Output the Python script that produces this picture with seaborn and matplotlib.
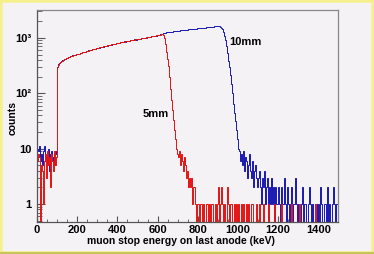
import numpy as np
import pandas as pd
import matplotlib
matplotlib.use('Agg')
import matplotlib.pyplot as plt
import matplotlib.ticker as mticker
from matplotlib.patches import Rectangle
from matplotlib.lines import Line2D
import seaborn as sns

# Histogram bins: 5 keV wide, 0 - 1500 keV
bin_edges = list(range(0, 1505, 5))

# 5mm: counts per bin, one row = 100 keV
counts_5mm = [
    6, 8, 7, 0, 5, 4, 1, 6, 8, 3, 9, 5, 7, 2, 8, 6, 4, 9, 5, 7,
    300, 330, 352, 368, 380, 390, 402, 411, 420, 428, 436, 447, 454, 462, 470, 478, 484, 493, 500, 506,
    508, 516, 522, 531, 538, 546, 552, 561, 567, 576, 583, 590, 597, 604, 612, 618, 626, 632, 641, 648,
    657, 662, 671, 678, 686, 692, 701, 707, 716, 722, 730, 738, 745, 752, 760, 767, 775, 782, 790, 798,
    806, 812, 820, 828, 835, 842, 850, 857, 865, 871, 880, 886, 894, 901, 910, 916, 924, 931, 940, 947,
    955, 963, 970, 979, 987, 995, 1003, 1012, 1020, 1028, 1037, 1045, 1054, 1062, 1071, 1080, 1088, 1097, 1106, 1115,
    1124, 1135, 1150, 1165, 1190, 1150, 1000, 760, 560, 420, 310, 200, 120, 76, 50, 33, 22, 15, 10, 8,
    7, 9, 5, 8, 6, 4, 7, 5, 3, 4, 2, 3, 2, 3, 1, 2, 2, 1, 0, 1,
    1, 0, 1, 1, 0, 1, 0, 0, 1, 1, 0, 1, 0, 1, 1, 0, 0, 1, 0, 1,
    2, 0, 1, 2, 1, 0, 1, 0, 0, 2, 1, 0, 1, 1, 0, 0, 1, 0, 1, 0,
    1, 0, 0, 1, 0, 1, 0, 0, 1, 0, 1, 0, 0, 1, 1, 0, 0, 0, 1, 0,
    0, 1, 0, 0, 0, 1, 0, 0, 0, 0, 1, 0, 0, 0, 0, 0, 1, 0, 0, 0,
    0, 0, 0, 1, 0, 0, 0, 0, 0, 0, 0, 0, 0, 1, 0, 0, 0, 0, 0, 0,
    0, 1, 0, 0, 0, 0, 0, 0, 0, 0, 0, 0, 0, 0, 0, 0, 0, 1, 0, 0,
    0, 0, 0, 0, 0, 0, 0, 0, 0, 0, 0, 0, 0, 0, 0, 0, 0, 0, 0, 0,
]

# 10mm: counts per bin
counts_10mm = [
    10, 9, 11, 6, 8, 5, 9, 11, 6, 7, 5, 10, 4, 8, 9, 6, 7, 5, 9, 8,
    296, 334, 348, 372, 378, 394, 398, 414, 417, 432, 433, 450, 452, 466, 468, 482, 482, 498, 496, 510,
    504, 520, 519, 535, 534, 550, 548, 565, 563, 580, 579, 594, 593, 608, 608, 622, 622, 636, 637, 652,
    652, 667, 667, 682, 682, 697, 697, 712, 711, 727, 726, 742, 741, 757, 756, 772, 771, 787, 786, 802,
    801, 817, 815, 832, 831, 847, 846, 862, 860, 876, 876, 891, 890, 906, 905, 921, 920, 936, 935, 952,
    951, 967, 966, 984, 983, 1000, 999, 1016, 1015, 1033, 1032, 1050, 1049, 1067, 1066, 1084, 1083, 1101, 1101, 1119,
    1128, 1146, 1158, 1178, 1192, 1214, 1228, 1246, 1252, 1262, 1268, 1280, 1285, 1296, 1300, 1312, 1318, 1326, 1333, 1342,
    1348, 1358, 1362, 1372, 1378, 1386, 1392, 1400, 1406, 1414, 1418, 1428, 1432, 1440, 1446, 1454, 1458, 1468, 1472, 1480,
    1486, 1494, 1500, 1508, 1514, 1522, 1528, 1536, 1542, 1550, 1556, 1564, 1570, 1580, 1590, 1602, 1630, 1640, 1644, 1650,
    1648, 1640, 1600, 1540, 1450, 1300, 1100, 900, 720, 530, 390, 300, 210, 150, 100, 65, 45, 32, 22, 15,
    10, 9, 6, 8, 5, 9, 4, 7, 6, 3, 5, 8, 4, 3, 6, 2, 4, 5, 3, 2,
    3, 4, 2, 1, 3, 2, 4, 1, 2, 3, 0, 2, 1, 3, 1, 2, 0, 2, 1, 1,
    2, 1, 0, 2, 1, 1, 3, 1, 0, 2, 1, 0, 1, 2, 0, 1, 1, 3, 1, 0,
    1, 0, 0, 1, 2, 0, 1, 1, 0, 0, 1, 2, 1, 0, 1, 0, 0, 1, 1, 0,
    1, 0, 2, 1, 0, 0, 1, 1, 0, 2, 0, 1, 0, 0, 1, 2, 1, 0, 1, 1,
]

y_tick_values = [1, 10, 100, 1000]
y_tick_labels = ['1', '10', '10²', '10³']

bg = '#f4f2f4'
red = '#e41414'
blue = '#1818b4'

sns.set_style('ticks')
plt.rcParams['font.family'] = ['Liberation Sans', 'DejaVu Sans']
plt.rcParams['font.weight'] = 'bold'
plt.rcParams['text.color'] = 'black'
plt.rcParams['xtick.labelcolor'] = 'black'
plt.rcParams['ytick.labelcolor'] = 'black'

centers = np.array(bin_edges[:-1]) + 2.5
df = pd.DataFrame({'energy': centers, 'c5': counts_5mm, 'c10': counts_10mm})

fig = plt.figure(figsize=(3.74, 2.54), dpi=100, facecolor=bg)
ax = fig.add_axes([0.099, 0.126, 0.806, 0.835], facecolor=bg)

sns.histplot(data=df, x='energy', weights='c10', bins=bin_edges, element='step',
             fill=False, color=blue, linewidth=0.7, ax=ax)
sns.histplot(data=df, x='energy', weights='c5', bins=bin_edges, element='step',
             fill=False, color=red, linewidth=0.7, ax=ax)

ax.set_yscale('log')
ax.set_xlim(0, 1500)
ax.set_ylim(0.475, 3200)

ax.xaxis.set_major_locator(mticker.MultipleLocator(200))
ax.xaxis.set_minor_locator(mticker.MultipleLocator(50))
ax.yaxis.set_major_locator(mticker.FixedLocator(y_tick_values))
ax.yaxis.set_major_formatter(mticker.FixedFormatter(y_tick_labels))
ax.yaxis.set_minor_locator(mticker.LogLocator(base=10, subs=np.arange(2, 10)))
ax.yaxis.set_minor_formatter(mticker.NullFormatter())

ax.tick_params(axis='x', which='major', direction='in', length=4, width=0.8,
               color='#555555', labelsize=8, pad=2)
ax.tick_params(axis='x', which='minor', direction='in', length=2, width=0.6,
               color='#555555')
ax.tick_params(axis='y', which='major', direction='in', length=6, width=0.8,
               color='#555555', labelsize=8, pad=4)
ax.tick_params(axis='y', which='minor', direction='in', length=3.5, width=0.6,
               color='#555555')
for lbl in ax.get_xticklabels() + ax.get_yticklabels():
    lbl.set_fontweight('bold')

for s in ax.spines.values():
    s.set_color('#888888')
    s.set_linewidth(0.9)
ax.spines['left'].set_color('#555555')
ax.spines['bottom'].set_color('#555555')

ax.set_xlabel('')
ax.set_ylabel('')
fig.text(0.485, 1 - 241 / 254, 'muon stop energy on last anode (keV)',
         ha='center', va='center', fontsize=7.5, fontweight='bold')
fig.text(13 / 374, 1 - 118 / 254, 'counts', rotation=90,
         ha='center', va='center', fontsize=7.5, fontweight='bold')

ax.text(955, 850, '10mm', ha='left', va='center', fontsize=8, fontweight='bold')
ax.text(525, 42, '5mm', ha='left', va='center', fontsize=8, fontweight='bold')

# yellow frame around the picture
fig.patches.append(Rectangle((0, 0), 1, 1, transform=fig.transFigure,
                             fill=False, edgecolor='#f6f08c', linewidth=4))
fig.lines.append(Line2D([0, 1], [0.004, 0.004], transform=fig.transFigure,
                        color='#c8c45a', linewidth=1.5))

fig.savefig('out.png', dpi=100, facecolor=bg)
